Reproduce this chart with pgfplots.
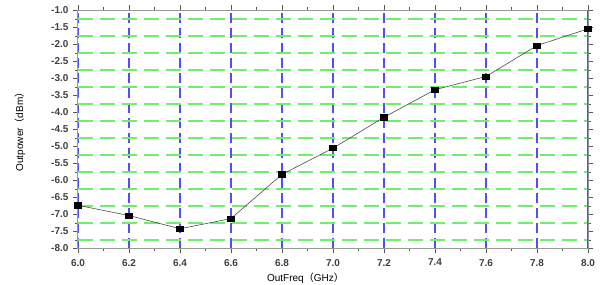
\documentclass[border=0pt]{standalone}
\usepackage{pgfplots}
\pgfplotsset{compat=1.18}
\usepackage{fontspec}
\setmainfont{Liberation Sans}
\newfontfamily\cjk{Noto Sans CJK SC}
\definecolor{gridgreen}{RGB}{110,240,110}
\definecolor{gridblue}{RGB}{80,80,250}
\begin{document}
\begin{tikzpicture}
\begin{axis}[
  scale only axis, width=510pt, height=238pt,
  xmin=6, xmax=8, ymin=-8, ymax=-1,
  xtick={6.0,6.2,6.4,6.6,6.8,7.0,7.2,7.4,7.6,7.8,8.0},
  ytick={-8,-7.5,-7,-6.5,-6,-5.5,-5,-4.5,-4,-3.5,-3,-2.5,-2,-1.5,-1},
  minor x tick num=1, minor y tick num=1,
  xmajorgrids=true, yminorgrids=true,
  major x grid style={gridblue, dash pattern=on 10pt off 5pt, line width=2pt},
  minor y grid style={gridgreen, dash pattern=on 15pt off 7pt, line width=2pt},
  axis line style={gray!80, line width=1pt},
  tick style={gray!70!black, line width=0.6pt},
  tick align=outside,
  major tick length=5pt, minor tick length=3pt,
  ticklabel style={font=\bfseries\fontsize{10}{12}\selectfont, text=black!75},
  /pgf/number format/.cd, fixed, fixed zerofill, precision=1, assume math mode=true,
  /pgfplots/.cd,
  xticklabel style={yshift=-2pt},
  yticklabel style={xshift=-1pt},
  xlabel={OutFreq{\cjk （}GHz{\cjk ）}},
  ylabel={Outpower{\cjk （}dBm{\cjk ）}},
  xlabel style={at={(axis description cs:0.446,-0.124)}, anchor=center, font=\fontsize{10}{12}\selectfont},
  ylabel style={at={(axis description cs:-0.114,0.5)}, anchor=center, rotate=0, font=\fontsize{10}{12}\selectfont},
]
\addplot[gray!60!black, line width=0.6pt, mark=square*,
  mark options={black, fill=black, xscale=1.4}, mark size=2.6pt]
  coordinates {
  (6.0,-6.73) (6.2,-7.03) (6.4,-7.42) (6.6,-7.12) (6.8,-5.82) (7.0,-5.05)
  (7.2,-4.14) (7.4,-3.33) (7.6,-2.94) (7.8,-2.03) (8.0,-1.54)
  };
\draw[gridblue, line width=2pt] (rel axis cs:1,0) -- (rel axis cs:1,1);
\coordinate (sw) at (rel axis cs:0,0);
\coordinate (ne) at (rel axis cs:1,1);
\end{axis}
\pgfresetboundingbox
\path[use as bounding box] ([xshift=-78pt,yshift=-36.5pt]sw) rectangle ([xshift=20pt,yshift=10.5pt]ne);
\end{tikzpicture}
\end{document}
